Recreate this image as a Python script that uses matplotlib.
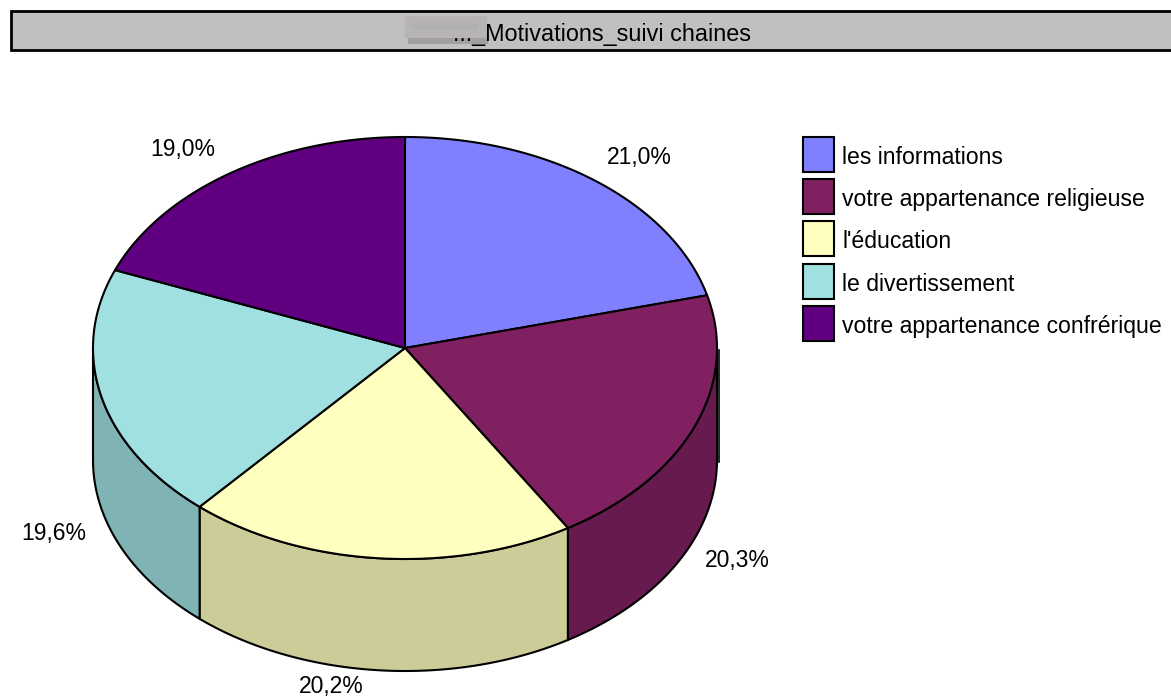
import matplotlib.pyplot as plt
from matplotlib.patches import Rectangle, Polygon
import numpy as np

# Data
categories = ["les informations", "votre appartenance religieuse", "l'éducation",
              "le divertissement", "votre appartenance confrérique"]
shares = [21.0, 20.3, 20.2, 19.6, 19.0]
share_labels = ["21,0%", "20,3%", "20,2%", "19,6%", "19,0%"]
title = "..._Motivations_suivi chaines"

# Styling
TOP_COLORS = ["#8080FF", "#802060", "#FFFFC0", "#A0E0E0", "#600080"]
SIDE_COLORS = ["#6666CC", "#661A4D", "#CCCC99", "#80B3B3", "#4D0066"]
BAR = "#C0C0C0"

plt.rcParams["font.family"] = ["Liberation Sans", "DejaVu Sans"]

fig = plt.figure(figsize=(11.71, 6.99), dpi=100, facecolor="white")
ax = fig.add_axes([0, 0, 1, 1])
ax.set_xlim(0, 1171)
ax.set_ylim(699, 0)
ax.axis("off")

# Pie geometry in pixels
cx, cy = 405, 348
rx, ry = 312, 211
depth = 112


def rim(a0, a1, dy=0):
    # points on the ellipse, angles clockwise from 12 o'clock
    t = np.radians(np.linspace(a0, a1, 120))
    return np.column_stack([cx + rx * np.sin(t), cy + dy - ry * np.cos(t)])


# Title bar, with the smudge over the start of the title
ax.add_patch(Rectangle((11, 11), 1170, 39, facecolor=BAR, edgecolor="black", linewidth=2))
ax.add_patch(Rectangle((408, 38), 80, 6, facecolor="#A0A0A0", edgecolor="none"))
ax.add_patch(Rectangle((405, 16), 82, 22, facecolor="#B8B4B4", edgecolor="none"))
ax.add_patch(Rectangle((412, 23), 66, 7, facecolor="#B0B0B0", edgecolor="none"))
ax.text(602, 41, title, ha="center", va="baseline", fontsize=16.8, color="black")

# Slice angles come from the shares
edges = np.cumsum([0] + shares) / sum(shares) * 360

# Side wall, only the front half of the disc shows
for i in range(len(shares)):
    a0, a1 = max(edges[i], 90), min(edges[i + 1], 270)
    if a1 <= a0:
        continue
    front = rim(a0, a1)
    back = rim(a0, a1, depth)[::-1]
    ax.add_patch(Polygon(np.vstack([front, back]), closed=True, facecolor=SIDE_COLORS[i],
                         edgecolor="black", linewidth=1.5, joinstyle="round"))

# Stray edge on the right of the wall
ax.plot([719, 719], [350, 462], color="black", linewidth=1.2)

# Top face
for i in range(len(shares)):
    arc = rim(edges[i], edges[i + 1])
    ax.add_patch(Polygon(np.vstack([[cx, cy], arc]), closed=True, facecolor=TOP_COLORS[i],
                         edgecolor="black", linewidth=1.5, joinstyle="round"))

# Value labels
label_pos = [(639, 164), (737, 567), (331, 693), (54, 540), (183, 156)]
for (x, y), lab in zip(label_pos, share_labels):
    ax.text(x, y, lab, ha="center", va="baseline", fontsize=16.5, color="black")

# Legend
legend_tops = [137, 179, 221, 264, 306]
for top, name, col in zip(legend_tops, categories, TOP_COLORS):
    ax.add_patch(Rectangle((803, top), 31, 35, facecolor=col, edgecolor="black", linewidth=1.5))
    ax.text(842, top + 27, name, ha="left", va="baseline", fontsize=16.6, color="black")

fig.savefig("out.png", dpi=100, facecolor="white")
